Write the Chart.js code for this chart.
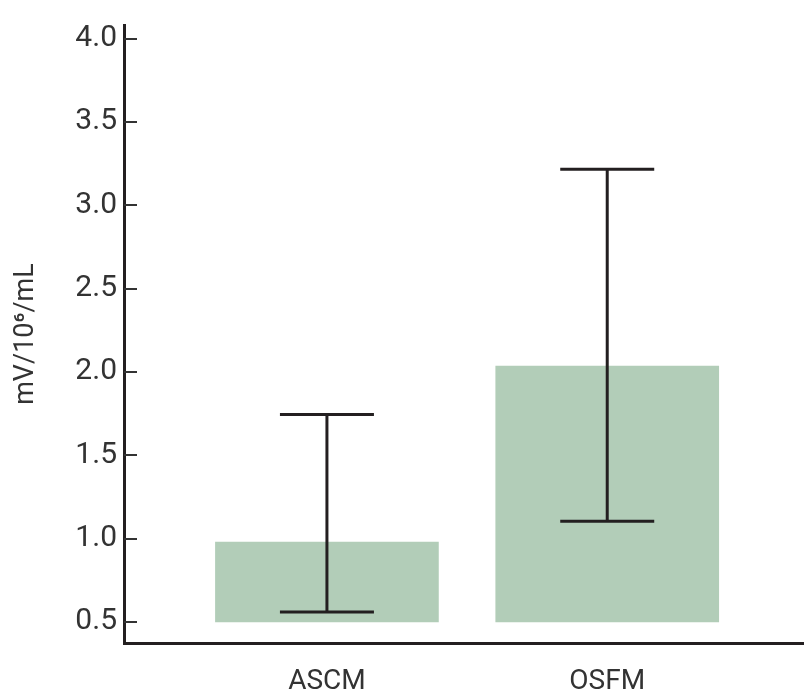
<!DOCTYPE html>
<html>
<head>
  <title>mV/10⁶/mL</title>
  <script src="https://cdn.jsdelivr.net/npm/chart.js"></script>
  <style>
    html, body { margin: 0; padding: 0; background: #fff; }
    #wrap { width: 804px; height: 694px; }
  </style>
</head>
<body>
  <div id="wrap"><canvas id="barChart"></canvas></div>

  <script>
    const categories = ['ASCM', 'OSFM'];
    const barBase = [0.5, 0.5];
    const barTop = [0.98, 2.035];
    const errLow = [0.56, 1.105];
    const errHigh = [1.745, 3.215];
    const yTicks = [0.5, 1.0, 1.5, 2.0, 2.5, 3.0, 3.5, 4.0];

    const ink = '#231f20';
    const textColor = '#333333';

    // error bars + inward y tick marks, drawn from the scales
    const extras = {
      id: 'extras',
      afterDatasetsDraw(chart) {
        const c = chart.ctx, x = chart.scales.x, y = chart.scales.y;
        c.save();
        c.strokeStyle = ink;
        categories.forEach((cat, i) => {
          const px = x.getPixelForValue(i + 1);
          const lo = y.getPixelForValue(errLow[i]);
          const hi = y.getPixelForValue(errHigh[i]);
          c.lineWidth = 3;
          c.beginPath();
          c.moveTo(px, lo); c.lineTo(px, hi);
          c.stroke();
          c.beginPath();
          c.moveTo(px - 47, lo); c.lineTo(px + 47, lo);
          c.moveTo(px - 47, hi); c.lineTo(px + 47, hi);
          c.stroke();
        });
        c.strokeStyle = '#333';
        c.lineWidth = 2;
        const left = chart.chartArea.left;
        y.ticks.forEach(t => {
          const py = Math.round(y.getPixelForValue(t.value));
          c.beginPath();
          c.moveTo(left, py); c.lineTo(left + 13, py);
          c.stroke();
        });
        c.restore();
      }
    };

    const ctx = document.getElementById('barChart').getContext('2d');
    const barChart = new Chart(ctx, {
      type: 'bar',
      data: {
        datasets: [{
          data: categories.map((c, i) => ({ x: i + 1, y: [barBase[i], barTop[i]] })),
          backgroundColor: '#b2cdb8',
          borderWidth: 0,
          barThickness: 223
        }]
      },
      options: {
        responsive: true,
        maintainAspectRatio: false,
        animation: false,
        layout: { padding: { top: 25, right: 0, left: 0, bottom: 0 } },
        plugins: {
          legend: { display: false },
          tooltip: { enabled: false }
        },
        scales: {
          x: {
            type: 'linear',
            min: 0.276,
            max: 2.702,
            offset: false,
            afterBuildTicks: s => { s.ticks = categories.map((c, i) => ({ value: i + 1 })); },
            afterFit: s => { s.height = 51; },
            grid: { display: false, drawTicks: false },
            border: { display: true, color: ink, width: 3 },
            ticks: {
              padding: 22,
              color: textColor,
              font: { family: 'Roboto', size: 28 },
              callback: v => categories[v - 1] || ''
            }
          },
          y: {
            min: 0.374,
            max: 4.081,
            afterBuildTicks: s => { s.ticks = yTicks.map(v => ({ value: v })); },
            afterFit: s => { s.width = 124; },
            grid: { display: false, drawTicks: false },
            border: { display: true, color: ink, width: 3 },
            title: {
              display: true,
              text: 'mV/10⁶/mL',
              color: textColor,
              font: { family: 'Roboto', size: 27 },
              padding: { top: 10, bottom: 0 }
            },
            ticks: {
              padding: 7,
              color: textColor,
              font: { family: 'Roboto', size: 30 },
              callback: v => v.toFixed(1)
            }
          }
        }
      },
      plugins: [extras]
    });
  </script>
</body>
</html>
